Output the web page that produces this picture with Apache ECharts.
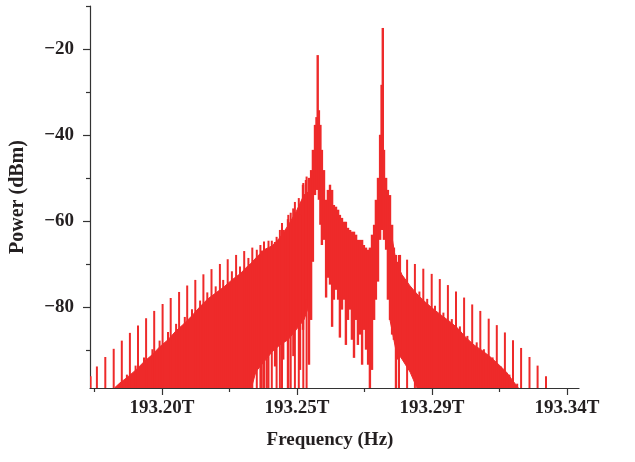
<!DOCTYPE html>
<html>
<head>
<meta charset="utf-8">
<script src="https://cdn.jsdelivr.net/npm/echarts@6/dist/echarts.min.js"></script>
<style>html,body{margin:0;padding:0;background:#fff}#c{width:635px;height:462px}</style>
</head>
<body>
<div id="c"></div>
<script>
// ---- axis extents / ticks ----
const X_MIN = 193.176, X_MAX = 193.339;
const Y_MIN = -98.7, Y_MAX = -10;
const xMajorTicks = [193.2, 193.245, 193.29, 193.335];
const xTickLabels = ['193.20T', '193.25T', '193.29T', '193.34T'];
const xMinorTicks = [193.1775, 193.2225, 193.2675, 193.3125];
const yMajorTicks = [-80, -60, -40, -20];
const yMinorTicks = [-90, -70, -50, -30, -10];
const FLOOR = -100;

// ---- tall comb lines (left wing) ----
const leftCombFreq = [193.1762,193.1783,193.1811,193.1839,193.1866,193.1893,193.1920,193.1947,193.1974,193.2002,193.2029,193.2057,193.2084,193.2111,193.2138,193.2165,193.2193,193.2219,193.2247,193.2274,193.2301,193.2328,193.2355,193.2382,193.2400,193.2429,193.2456,193.2482];
const leftCombPeak = [-96,-93.7,-91.5,-89.6,-87.7,-85.9,-84.2,-82.5,-80.8,-79.2,-77.8,-76.4,-74.9,-73.6,-72.3,-71.1,-69.9,-68.8,-67.8,-66.9,-66.1,-65.5,-64.5,-63.6,-60.4,-58,-54.6,-49.6];
// ---- secondary comb lines (left wing) ----
const leftSecFreq = [193.1883,193.1912,193.1940,193.1968,193.1992,193.2020,193.2047,193.2076,193.2100,193.2127,193.2151,193.2179,193.2204,193.2233,193.2260,193.2288,193.2316,193.2340,193.2366,193.2393,193.2421,193.2443,193.2471];
const leftSecPeak = [-95.6,-93.5,-91.6,-89.7,-87.7,-85.7,-83.8,-82.2,-80.4,-78.4,-76.5,-75.1,-73.6,-71.6,-70.5,-68.5,-66.6,-64.7,-64.5,-62,-58.5,-55.5,-51.1];

// ---- tall comb lines (right wing) ----
const rightCombFreq = [193.2790,193.2817,193.2843,193.2871,193.2899,193.2926,193.2953,193.2980,193.3007,193.3034,193.3061,193.3089,193.3116,193.3143,193.3170,193.3197,193.3225,193.3252,193.3280];
const rightCombPeak = [-67.8,-68.9,-69.9,-71.0,-72.2,-73.4,-74.8,-76.3,-77.7,-79.3,-80.8,-82.6,-84.1,-85.8,-87.6,-89.4,-91.5,-93.5,-96.0];
// ---- secondary comb lines (right wing) ----
const rightSecFreq = [193.2858,193.2884,193.2910,193.2938,193.2966,193.2993,193.3018,193.3049,193.3073,193.3102,193.3129,193.3158,193.3184];
const rightSecPeak = [-76.3,-78.0,-79.6,-81.2,-82.7,-84.4,-86.6,-88.1,-89.7,-91.6,-93.7,-95.6,-97.7];

// ---- dense body of the left wing ----
const leftBandFreq = [193.1843,193.1860,193.1883,193.1913,193.1940,193.1967,193.1993,193.2020,193.2047,193.2073,193.2100,193.2127,193.2153,193.2180,193.2207,193.2233,193.2260,193.2287,193.2296,193.2313,193.2340,193.2367,193.2393,193.2420,193.2447,193.2473,193.2497];
const leftBandTop  = [-98.6,-97.5,-96.3,-94.5,-92.6,-91.0,-89.1,-87.5,-85.4,-83.8,-81.9,-79.8,-78.0,-76.6,-75.2,-73.6,-72.2,-70.3,-69.8,-68.5,-66.6,-65.7,-63.8,-61.0,-57.8,-53.9,-52.7];
const leftBandBot  = [-100,-100,-100,-100,-100,-100,-100,-100,-100,-100,-100,-100,-100,-100,-100,-100,-100,-100,-100,-94.9,-92.6,-90.3,-88.7,-87.5,-85.2,-82.9,-78.2];

// ---- dense body of the right wing ----
const rightBandFreq = [193.2760,193.2780,193.2800,193.2827,193.2853,193.2880,193.2907,193.2933,193.2960,193.2987,193.3013,193.3040,193.3067,193.3093,193.3120,193.3147,193.3167,193.3187];
const rightBandTop  = [-60.8,-69.4,-72.4,-75.0,-77.1,-78.9,-80.5,-81.9,-83.3,-84.9,-87.0,-88.7,-90.0,-91.4,-93.1,-94.9,-96.8,-98.6];
const rightBandBot  = [-82.9,-90.0,-92.0,-95.0,-100,-100,-100,-100,-100,-100,-100,-100,-100,-100,-100,-100,-100,-100];

// ---- central structure: individual trace lines (freq, low, high) ----
const centerFreq = [193.2332,193.2349,193.2377,193.2404,193.2420,193.2438,193.2460,193.2470,193.2480,193.2490,193.2497,193.2503,193.2510,193.2515,193.2519,193.2523,193.2528,193.2533,193.2540,193.2547,193.2553,193.2560,193.2567,193.2573,193.2580,193.2587,193.2593,193.2600,193.2607,193.2613,193.2620,193.2627,193.2633,193.2640,193.2647,193.2653,193.2660,193.2667,193.2673,193.2680,193.2687,193.2693,193.2700,193.2707,193.2713,193.2720,193.2727,193.2732,193.2736,193.2740,193.2747,193.2753,193.2760,193.2767,193.2773,193.2780,193.2787,193.2793];
const centerHigh = [-66.8,-66.5,-64.8,-62.0,-59.5,-57.0,-58.5,-51.5,-50.4,-49.9,-48.1,-43.4,-37.6,-35.8,-21.4,-34.2,-37.6,-43.4,-48.1,-55.0,-52.7,-51.5,-52.7,-56.2,-56.6,-57.3,-58.5,-59.2,-60.1,-60.1,-61.5,-62.0,-62.4,-62.4,-63.1,-64.3,-64.3,-64.3,-65.5,-66.1,-66.6,-66.1,-63.1,-60.8,-55.0,-49.9,-39.9,-28.3,-15.1,-43.4,-49.9,-52.7,-53.9,-60.8,-66.1,-67.8,-69.4,-67.8];
const centerLow  = [-100,-100,-93.7,-92.1,-100,-91.3,-94.5,-85.2,-78.2,-93.3,-82.9,-69.4,-53.9,-52.7,-52.7,-55.0,-60.8,-65.5,-64.3,-77.7,-73.1,-74.7,-84.5,-78.2,-75.9,-78.2,-87.0,-80.5,-78.2,-88.7,-82.9,-80.5,-87.5,-91.7,-82.9,-88.7,-86.3,-93.3,-85.2,-89.8,-93.3,-100,-94.5,-82.9,-78.2,-74.0,-64.3,-62.0,-62.0,-64.3,-66.6,-78.2,-82.9,-86.3,-87.5,-100,-92.1,-89.8];

const RED = '#ee2a2a';
const FONT = 'Liberation Serif';

// build the line table: [freq, low, high, kind]
const lineData = [];
leftCombFreq.forEach((f, i) => lineData.push([f, FLOOR, leftCombPeak[i], 0]));
leftSecFreq.forEach((f, i) => lineData.push([f, FLOOR, leftSecPeak[i], 0]));
rightCombFreq.forEach((f, i) => lineData.push([f, FLOOR, rightCombPeak[i], 0]));
rightSecFreq.forEach((f, i) => lineData.push([f, FLOOR, rightSecPeak[i], 0]));
centerFreq.forEach((f, i) => lineData.push([f, centerLow[i], centerHigh[i], 1]));

function clampY(v) { return Math.max(Y_MIN - 0.5, Math.min(Y_MAX, v)); }

function bandSeries(freq, top, bot) {
  return {
    type: 'custom',
    clip: true,
    silent: true,
    data: [[freq[0], top[0]]],
    renderItem: function (params, api) {
      const pts = [];
      for (let i = 0; i < freq.length; i++) pts.push(api.coord([freq[i], clampY(top[i])]));
      for (let i = freq.length - 1; i >= 0; i--) pts.push(api.coord([freq[i], clampY(bot[i])]));
      return { type: 'polygon', shape: { points: pts }, style: { fill: RED, stroke: RED, lineWidth: 1 } };
    }
  };
}

const chart = echarts.init(document.getElementById('c'), null, { renderer: 'canvas' });
const axisLineStyle = { color: '#333', width: 1.2 };
const labelStyle = { fontFamily: FONT, fontWeight: 'bold', fontSize: 19, color: '#231f20' };

chart.setOption({
  animation: false,
  backgroundColor: '#fff',
  grid: { left: 90, right: 56, top: 6, bottom: 74, containLabel: false },
  xAxis: [
    {
      type: 'value', min: X_MIN, max: X_MAX, position: 'bottom',
      axisLine: { show: true, onZero: false, lineStyle: axisLineStyle },
      axisTick: { show: true, length: 7, customValues: xMajorTicks, lineStyle: axisLineStyle },
      axisLabel: {
        show: true, customValues: xMajorTicks, margin: 11, ...labelStyle,
        formatter: function (v) {
          let best = 0;
          xMajorTicks.forEach((t, i) => { if (Math.abs(t - v) < Math.abs(xMajorTicks[best] - v)) best = i; });
          return xTickLabels[best];
        }
      },
      splitLine: { show: false },
      name: 'Frequency (Hz)', nameLocation: 'middle', nameGap: 43,
      nameTextStyle: { fontFamily: FONT, fontWeight: 'bold', fontSize: 19, color: '#231f20', padding: [0, 9, 0, 0] }
    },
    {
      type: 'value', min: X_MIN, max: X_MAX, position: 'bottom', offset: 0,
      axisLine: { show: false, onZero: false },
      axisTick: { show: true, length: 4, customValues: xMinorTicks, lineStyle: axisLineStyle },
      axisLabel: { show: false },
      splitLine: { show: false }
    }
  ],
  yAxis: [
    {
      type: 'value', min: Y_MIN, max: Y_MAX, position: 'left',
      axisLine: { show: true, onZero: false, lineStyle: axisLineStyle },
      axisTick: { show: true, length: 7, customValues: yMajorTicks, lineStyle: axisLineStyle },
      axisLabel: {
        show: true, customValues: yMajorTicks, margin: 16, ...labelStyle,
        formatter: function (v) { return (v < 0 ? '\u2212' : '') + Math.abs(Math.round(v)); }
      },
      splitLine: { show: false },
      name: 'Power (dBm)', nameLocation: 'middle', nameGap: 62,
      nameTextStyle: { fontFamily: FONT, fontWeight: 'bold', fontSize: 20, color: '#231f20' }
    },
    {
      type: 'value', min: Y_MIN, max: Y_MAX, position: 'left', offset: 0,
      axisLine: { show: false, onZero: false },
      axisTick: { show: true, length: 4, customValues: yMinorTicks, lineStyle: axisLineStyle },
      axisLabel: { show: false },
      splitLine: { show: false }
    }
  ],
  series: [
    bandSeries(leftBandFreq, leftBandTop, leftBandBot),
    bandSeries(rightBandFreq, rightBandTop, rightBandBot),
    {
      type: 'custom',
      clip: true,
      silent: true,
      data: lineData,
      encode: { x: 0, y: [1, 2] },
      renderItem: function (params, api) {
        const f = api.value(0);
        const a = api.coord([f, clampY(api.value(1))]);
        const b = api.coord([f, clampY(api.value(2))]);
        const w = api.value(3) === 1 ? 2.4 : 2;
        return { type: 'line', shape: { x1: a[0], y1: a[1], x2: b[0], y2: b[1] }, style: { stroke: RED, lineWidth: w } };
      }
    }
  ]
});
</script>
</body>
</html>
